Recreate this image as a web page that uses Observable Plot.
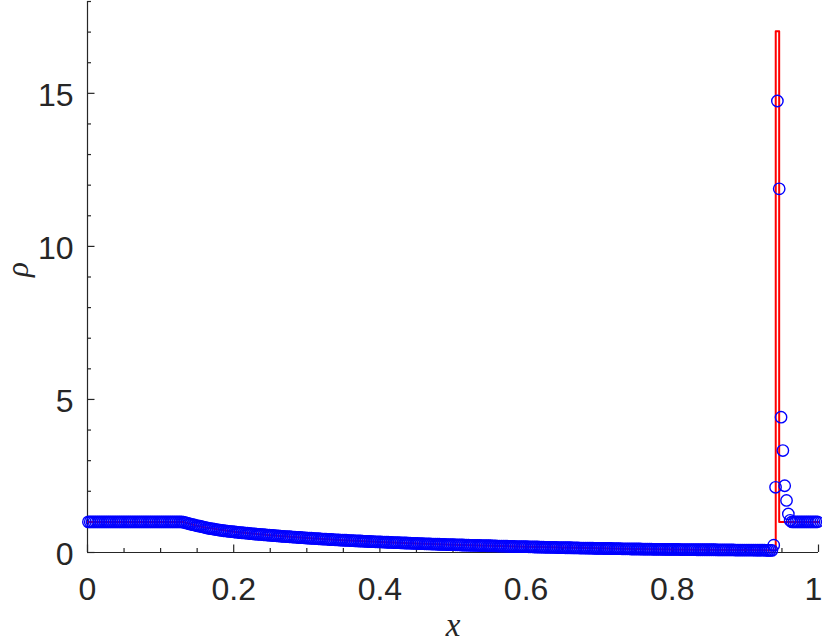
<!DOCTYPE html>
<html>
<head>
<meta charset="utf-8">
<script src="https://cdn.jsdelivr.net/npm/d3@7"></script>
<script src="https://cdn.jsdelivr.net/npm/@observablehq/plot@0.6"></script>
<style>
  html, body { margin: 0; padding: 0; background: #fff; }
  #chart svg { display: block; }
</style>
</head>
<body>
<div id="chart"></div>
<script>
// ---- Exact solution (red line) vertices ----
const exactX   = [0, 0.13, 0.155, 0.2, 0.25, 0.3, 0.35, 0.4, 0.45, 0.5, 0.55, 0.6, 0.65, 0.7, 0.75, 0.8, 0.85, 0.9, 0.9415, 0.9415, 0.9462, 0.9462, 1];
const exactRho = [1, 1, 0.84, 0.675, 0.565, 0.475, 0.40, 0.345, 0.295, 0.255, 0.22, 0.19, 0.16, 0.135, 0.115, 0.10, 0.09, 0.08, 0.07, 17.03, 17.03, 1, 1];

// ---- Numerical solution (blue circles), 400 cells ----
const numCells = 400;
const numRho = [
  1,1,1,1,1,1,1,1,1,1,1,1,1,1,1,1,1,1,1,1,
  1,1,1,1,1,1,1,1,1,1,1,1,1,1,1,1,1,1,1,1,
  1,1,1,1,1,1,1,1,1,1,1,1,
  0.99,0.975,0.96,0.94, 0.93,0.91,0.90,0.88, 0.87,0.86,0.845,0.83, 0.815,0.80,0.79,0.78,
  0.77,0.76,0.75,0.74, 0.73,0.72,0.71,0.705, 0.70,0.69,0.685,0.68,
  0.67,0.665,0.66,0.65,0.645,0.64,0.635,0.63,
  0.62,0.615,0.61,0.605,0.60,0.595,0.59,0.585,
  0.58,0.575,0.57,0.565,0.56,0.555,0.55,0.545,
  0.54,0.535,0.53,0.525,0.52,0.52,0.515,0.51,
  0.505,0.50,0.495,0.49,0.49,0.485,0.48,0.475,
  0.47,0.47,0.465,0.46,0.455,0.455,0.45,0.445,
  0.44,0.44,0.435,0.43,0.425,0.425,0.42,0.415,
  0.415,0.41,0.405,0.405,0.40,0.40,0.395,0.39,
  0.39,0.385,0.38,0.38,0.375,0.375,0.37,0.365,
  0.365,0.36,0.36,0.355,0.355,0.35,0.35,0.345,
  0.345,0.34,0.34,0.335,0.335,0.33,0.33,0.325,0.325,0.32,0.32,0.315,0.315,0.31,0.31,0.305,0.305,0.30,0.30,0.295,
  0.295,0.29,0.29,0.29,0.285,0.285,0.28,0.28,0.275,0.275,0.275,0.27,0.27,0.265,0.265,0.265,0.26,0.26,0.255,0.255,
  0.255,0.25,0.25,0.25,0.245,0.245,0.24,0.24,0.24,0.235,0.235,0.235,0.23,0.23,0.23,0.225,0.225,0.225,0.22,0.22,
  0.22,0.215,0.215,0.215,0.21,0.21,0.21,0.205,0.205,0.205,0.20,0.20,0.20,0.20,0.195,0.195,0.195,0.19,0.19,0.19,
  0.19,0.185,0.185,0.185,0.18,0.18,0.18,0.175,0.175,0.175,0.17,0.17,0.17,0.17,0.165,0.165,0.165,0.16,0.16,0.16,
  0.16,0.155,0.155,0.155,0.155,0.15,0.15,0.15,0.15,0.145,0.145,0.145,0.145,0.14,0.14,0.14,0.14,0.135,0.135,0.135,
  0.135,0.135,0.13,0.13,0.13,0.13,0.13,0.125,0.125,0.125,0.125,0.125,0.12,0.12,0.12,0.12,0.12,0.115,0.115,0.115,
  0.115,0.115,0.115,0.11,0.11,0.11,0.11,0.11,0.11,0.105,0.105,0.105,0.105,0.105,0.105,0.10,0.10,0.10,0.10,0.10,
  0.10,0.10,0.10,0.10,0.095,0.095,0.095,0.095,0.095,0.095,0.095,0.095,0.095,0.09,0.09,0.09,0.09,0.09,0.09,0.09,
  0.09,0.09,0.09,0.09,0.085,0.085,0.085,0.085,0.085,0.085,0.085,0.085,0.085,0.085,0.08,0.08,0.08,0.08,0.08,0.08,
  0.08,0.08,0.08,0.08,0.08,0.075,0.075,0.075,0.075,0.075,0.075,0.07,0.07,0.07,0.07,
  0.24,2.13,14.75,11.88,4.42,3.33,2.18,1.70,1.26,1.05,
  1,1,1,1,1,1,1,1,1,1,1,1,1,1,1
];

// ---- Axes ----
const xMajorTicks = [0, 0.2, 0.4, 0.6, 0.8, 1];
const xTickLabels = ["0", "0.2", "0.4", "0.6", "0.8", "1"];
const xMinorTicks = [0.05, 0.1, 0.15, 0.25, 0.3, 0.35, 0.45, 0.5, 0.55, 0.65, 0.7, 0.75, 0.85, 0.9, 0.95];
const yMajorTicks = [0, 5, 10, 15];
const yTickLabels = ["0", "5", "10", "15"];
const yMinorTicks = [1, 2, 3, 4, 6, 7, 8, 9, 11, 12, 13, 14, 16, 17, 18];
const xDomain = [0, 1];
const yDomain = [0, 18];
const xLabel = "x";
const yLabel = "ρ";

const numData = numRho.map((r, i) => ({x: (i + 0.5) / numCells, rho: r}));
const exactData = exactX.map((x, i) => ({x, rho: exactRho[i]}));
const xTickData = xMajorTicks.map((x, i) => ({x, label: xTickLabels[i]}));

const axisColor = "#262626";
const tickFont = "Liberation Sans, Arial, Helvetica, sans-serif";
const labelFont = "Liberation Serif, DejaVu Serif, serif";

const chart = Plot.plot({
  width: 822,
  height: 643,
  marginLeft: 87,
  marginRight: 4,
  marginTop: 1,
  marginBottom: 91,
  x: {domain: xDomain, axis: null},
  y: {domain: yDomain, axis: null},
  style: {background: "#fff", overflow: "visible"},
  marks: [
    // axis lines
    Plot.ruleX([0], {stroke: axisColor, strokeWidth: 1.2}),
    Plot.ruleY([0], {stroke: axisColor, strokeWidth: 1.2}),
    // inward ticks, x
    Plot.ruleX(xMajorTicks, {x: d => d, y1: 0, y2: 0, insetBottom: 7.5, stroke: axisColor, strokeWidth: 1.2}),
    Plot.ruleX(xMinorTicks, {x: d => d, y1: 0, y2: 0, insetBottom: 4, stroke: axisColor, strokeWidth: 1.2}),
    // inward ticks, y
    Plot.ruleY(yMajorTicks, {y: d => d, x1: 0, x2: 0, insetRight: -7.5, stroke: axisColor, strokeWidth: 1.2}),
    Plot.ruleY(yMinorTicks, {y: d => d, x1: 0, x2: 0, insetRight: -4, stroke: axisColor, strokeWidth: 1.2}),
    // x tick labels (last one kept inside the figure, as in the reference)
    Plot.text(xTickData.slice(0, -1), {x: "x", y: 0, text: "label", lineAnchor: "top", dy: 25,
      fontSize: 32, fontFamily: tickFont, fill: axisColor}),
    Plot.text(xTickData.slice(-1), {x: "x", y: 0, text: "label", lineAnchor: "top", dy: 25, dx: -5,
      fontSize: 32, fontFamily: tickFont, fill: axisColor}),
    Plot.axisY({ticks: yMajorTicks, tickSize: 0, tickPadding: 14, dy: 2.5, tickFormat: (d, i) => yTickLabels[i],
      fontSize: 32, fontFamily: tickFont, fill: axisColor, label: null}),
    // axis labels
    Plot.text([xLabel], {text: d => d, frameAnchor: "bottom", lineAnchor: "top", dy: 60,
      fontSize: 33, fontStyle: "italic", fontFamily: labelFont, fill: axisColor}),
    Plot.text([yLabel], {text: d => d, frameAnchor: "left", rotate: -90, dx: -69,
      fontSize: 31, fontStyle: "italic", fontFamily: labelFont, fill: axisColor}),
    // exact solution
    Plot.line(exactData, {x: "x", y: "rho", stroke: "#ff0000", strokeWidth: 2}),
    // numerical solution
    Plot.dot(numData, {x: "x", y: "rho", r: 5.7, stroke: "#0000ff", strokeWidth: 1.4, fill: "none"})
  ]
});
document.getElementById("chart").appendChild(chart);
</script>
</body>
</html>
